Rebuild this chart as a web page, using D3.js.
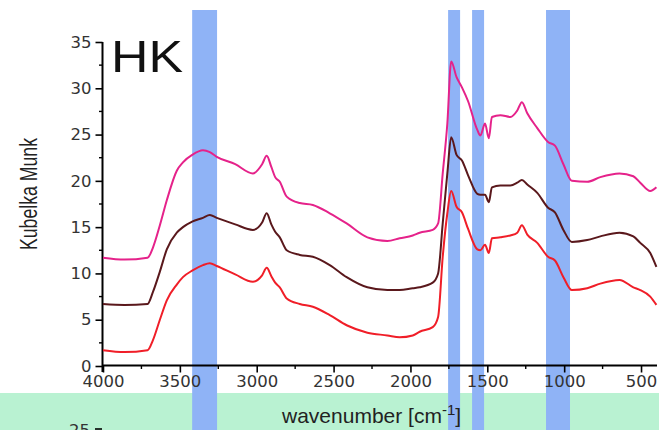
<!DOCTYPE html>
<html>
<head>
<meta charset="utf-8">
<script src="https://cdn.jsdelivr.net/npm/d3@7"></script>
<style>
  body { margin: 0; background: #fff; }
  svg { display: block; }
</style>
</head>
<body>
<div id="svg"></div>
<script>
// wavenumbers (cm-1)
const wavenumbers = [4000, 3860, 3710, 3675, 3630, 3585, 3520, 3480, 3420, 3350, 3305, 3260, 3140, 3025, 2965, 2935, 2905, 2880, 2850, 2805, 2720, 2635, 2525, 2415, 2280, 2150, 2070, 1985, 1940, 1855, 1820, 1790, 1760, 1735, 1700, 1665, 1625, 1565, 1545, 1515, 1490, 1470, 1415, 1350, 1305, 1275, 1240, 1175, 1105, 1060, 1005, 950, 850, 765, 640, 550, 505, 440, 400]

const pinkValues = [11.7, 11.5, 11.7, 12.8, 15.2, 17.9, 21.1, 22.0, 22.8, 23.3, 23.1, 22.6, 21.8, 20.8, 21.8, 22.7, 21.5, 20.4, 19.9, 18.3, 17.6, 17.4, 16.5, 15.4, 13.9, 13.5, 13.8, 14.1, 14.4, 14.7, 15.4, 20.8, 26.2, 32.9, 31.2, 30.1, 28.6, 25.5, 24.9, 26.2, 24.6, 26.9, 27.1, 26.9, 27.6, 28.5, 27.3, 25.7, 24.2, 23.8, 21.8, 20.0, 19.9, 20.4, 20.8, 20.5, 19.8, 18.9, 19.3]

const maroonValues = [6.7, 6.6, 6.7, 8.0, 10.2, 12.6, 14.4, 15.0, 15.6, 16.0, 16.3, 16.0, 15.3, 14.7, 15.5, 16.5, 15.3, 14.5, 13.9, 12.5, 12.0, 11.8, 10.9, 9.6, 8.5, 8.2, 8.2, 8.4, 8.5, 9.0, 10.0, 15.4, 20.8, 24.7, 22.8, 22.2, 20.6, 18.6, 18.5, 18.5, 17.7, 19.3, 19.5, 19.5, 19.8, 20.1, 19.6, 18.7, 17.1, 16.6, 14.7, 13.4, 13.6, 14.0, 14.4, 14.0, 13.3, 12.2, 10.7]

const redValues = [1.7, 1.5, 1.7, 2.8, 5.0, 7.1, 8.8, 9.6, 10.3, 10.9, 11.1, 10.8, 9.9, 9.1, 9.8, 10.6, 9.7, 9.0, 8.5, 7.3, 6.7, 6.4, 5.5, 4.4, 3.6, 3.3, 3.1, 3.3, 3.7, 4.2, 5.3, 11.8, 16.5, 18.9, 17.2, 16.6, 14.8, 12.6, 12.5, 13.1, 12.2, 13.8, 13.9, 14.1, 14.4, 15.2, 14.2, 13.3, 11.8, 11.4, 9.6, 8.2, 8.4, 8.9, 9.3, 8.5, 8.2, 7.5, 6.6]

// highlighted bands [from, to] in cm-1
const bands = [[3420, 3258], [1755, 1677], [1599, 1521], [1118, 962]]

const xTicks = [4000, 3500, 3000, 2500, 2000, 1500, 1000, 500]
const yTicks = [0, 5, 10, 15, 20, 25, 30, 35]

function spectraChart() {

    const width = 659
    const height = 430

    const x = d3.scaleLinear().domain([4000, 400]).range([103, 656.4])
    const y = d3.scaleLinear().domain([0, 35]).range([366, 42])

    const svg = d3.select("#svg")
        .append("svg")
        .attr("width", width)
        .attr("height", height)
        .style("font-family", "'DejaVu Sans', sans-serif")

    // green strip at the bottom
    svg.append("rect")
        .attr("x", 0)
        .attr("y", 393)
        .attr("width", width)
        .attr("height", height - 393)
        .attr("fill", "#b9f2d2")

    // blue bands
    svg.append("g")
        .selectAll("rect")
        .data(bands)
        .join("rect")
        .attr("x", d => x(d[0]))
        .attr("width", d => x(d[1]) - x(d[0]))
        .attr("y", 10)
        .attr("height", height - 10)
        .attr("fill", "#8fb3f6")

    // y axis
    const yAxis = svg.append("g")
        .attr("transform", "translate(102.5,0)")
        .call(d3.axisLeft(y).tickValues(yTicks).tickFormat(d3.format("d")).tickSize(7).tickPadding(4))
    yAxis.select(".domain").attr("stroke-width", 2).attr("d", "M0,42V372")
    yAxis.selectAll(".tick line").attr("stroke-width", 1.6)
    yAxis.selectAll(".tick text")
        .attr("font-size", 16.5)
        .attr("font-family", "'DejaVu Sans', sans-serif")
        .attr("fill", "#333")
    yAxis.append("g")
        .selectAll("line")
        .data(d3.range(2.5, 35, 5))
        .join("line")
        .attr("x1", -3.5)
        .attr("x2", 0)
        .attr("y1", d => y(d))
        .attr("y2", d => y(d))
        .attr("stroke", "#000")
        .attr("stroke-width", 1.4)

    // x axis
    const xAxis = svg.append("g")
        .attr("transform", "translate(0,365.5)")
        .call(d3.axisBottom(x).tickValues(xTicks).tickFormat(d3.format("d")).tickSize(7).tickPadding(3))
    xAxis.select(".domain").attr("stroke-width", 2).attr("d", "M102.5,0H657")
    xAxis.selectAll(".tick line").attr("stroke-width", 1.6)
    xAxis.selectAll(".tick text")
        .attr("font-size", 16.5)
        .attr("font-family", "'DejaVu Sans', sans-serif")
        .attr("fill", "#333")
    xAxis.append("g")
        .selectAll("line")
        .data(d3.range(3750, 400, -500))
        .join("line")
        .attr("x1", d => x(d))
        .attr("x2", d => x(d))
        .attr("y1", 0)
        .attr("y2", 3.5)
        .attr("stroke", "#000")
        .attr("stroke-width", 1.4)

    // spectra
    const series = [
        {values: pinkValues, color: "#e5228a"},
        {values: maroonValues, color: "#5a181c"},
        {values: redValues, color: "#f01e28"}
    ]

    const line = d3.line()
        .x((d, i) => x(wavenumbers[i]))
        .y(d => y(d))
        .curve(d3.curveMonotoneX)

    svg.append("g")
        .attr("fill", "none")
        .attr("stroke-width", 2)
        .attr("stroke-linejoin", "round")
        .selectAll("path")
        .data(series)
        .join("path")
        .attr("stroke", d => d.color)
        .attr("d", d => line(d.values))

    // title
    svg.append("text")
        .attr("transform", "translate(111,72) scale(1.16,1)")
        .attr("font-family", "'Liberation Sans', Arial, sans-serif")
        .attr("font-size", 44.7)
        .attr("fill", "#111")
        .text("HK")

    // axis labels
    svg.append("text")
        .attr("transform", "translate(37,194) scale(1.3,1) rotate(-90)")
        .attr("text-anchor", "middle")
        .attr("font-family", "'Liberation Sans', Arial, sans-serif")
        .attr("font-size", 17.7)
        .attr("fill", "#222")
        .text("Kubelka Munk")

    const xLabel = svg.append("text")
        .attr("x", 282)
        .attr("y", 423)
        .attr("font-family", "'Liberation Sans', Arial, sans-serif")
        .attr("font-size", 21)
        .attr("fill", "#222")
    xLabel.append("tspan").text("wavenumber [cm")
    xLabel.append("tspan").attr("font-size", 15).attr("dy", -8).text("-1")
    xLabel.append("tspan").attr("dy", 8).text("]")

    // top of the next panel, cut by the frame
    svg.append("text")
        .attr("x", 90)
        .attr("y", 436)
        .attr("text-anchor", "end")
        .attr("font-size", 16.5)
        .attr("fill", "#333")
        .text("25")
    svg.append("line")
        .attr("x1", 95)
        .attr("x2", 102)
        .attr("y1", 429)
        .attr("y2", 429)
        .attr("stroke", "#000")
        .attr("stroke-width", 1.6)
}
spectraChart()
</script>
</body>
</html>
